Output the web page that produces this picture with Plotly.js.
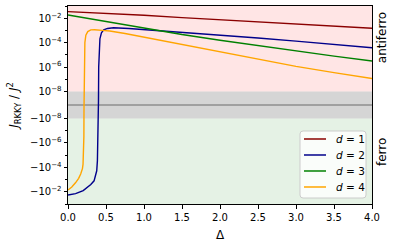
<!DOCTYPE html>
<html>
<head>
<meta charset="utf-8">
<script src="https://cdn.plot.ly/plotly-3.0.1.min.js"></script>
<style>html,body{margin:0;padding:0;background:#fff;}#chart{width:394px;height:251px;}</style>
</head>
<body>
<div id="chart"></div>
<script>
// ---- data (J_RKKY / J^2 versus Delta) ----
const labels = ['<i>d</i> = 1', '<i>d</i> = 2', '<i>d</i> = 3', '<i>d</i> = 4'];
const colors = ['#8b0000', '#00008b', '#008000', '#ffa500'];

const delta1 = [0, 0.5, 1, 1.5, 2, 2.5, 3, 3.5, 4];
const j1 = [3.47e-2, 2.63e-2, 1.74e-2, 1.12e-2, 7.6e-3, 4.7e-3, 3.2e-3, 2.2e-3, 1.5e-3];

const delta2 = [0, 0.1, 0.2, 0.25, 0.3, 0.343, 0.365, 0.378, 0.387, 0.393, 0.397, 0.399, 0.401, 0.404,
                0.41, 0.42, 0.44, 0.47, 0.52, 0.6, 0.8, 1.0, 1.5, 2.0, 2.5, 3.0, 3.5, 4.0];
const j2 = [-1.86e-2, -1.41e-2, -7.9e-3, -4.5e-3, -2.5e-3, -1.26e-3, -5.0e-4, -1.9e-4, -2.8e-5, -1e-6, -2e-9, 0, 3e-9, 1e-6,
            3e-5, 2e-4, 6.3e-4, 1.1e-3, 1.45e-3, 1.66e-3, 1.42e-3, 1.17e-3, 6.8e-4, 4.0e-4, 2.4e-4, 1.32e-4, 7.1e-5, 3.8e-5];

const delta3 = [0, 0.25, 0.5, 0.75, 1, 1.5, 2, 2.5, 3, 3.5, 4];
const j3 = [1.86e-2, 1.0e-2, 5.25e-3, 2.75e-3, 1.48e-3, 4.6e-4, 1.58e-4, 5.6e-5, 2.1e-5, 7.9e-6, 3.1e-6];

const delta4 = [0, 0.05, 0.101, 0.14, 0.167, 0.19, 0.198, 0.205, 0.209, 0.2105, 0.211, 0.2115, 0.213, 0.216,
                0.222, 0.235, 0.26, 0.3, 0.35, 0.45, 0.55, 0.75, 1.0, 1.5, 2.0, 2.5, 3.0, 3.5, 4.0];
const j4 = [-7.2e-3, -4.0e-3, -1.74e-3, -7.9e-4, -3.5e-4, -1.26e-4, -5.4e-5, -6.3e-6, -3e-7, -3e-9, 0, 3e-9, 3e-7, 1e-5,
            1e-4, 4e-4, 8e-4, 1.1e-3, 1.12e-3, 1.0e-3, 8.9e-4, 5.6e-4, 2.8e-4, 7.1e-5, 1.78e-5, 4.2e-6, 1.12e-6, 3.5e-7, 1.15e-7];

const yMajorVals = [1e-2, 1e-4, 1e-6, 1e-8, -1e-8, -1e-6, -1e-4, -1e-2];
const yMajorText = ['10<sup>−2</sup>', '10<sup>−4</sup>', '10<sup>−6</sup>', '10<sup>−8</sup>',
                    '−10<sup>−8</sup>', '−10<sup>−6</sup>', '−10<sup>−4</sup>', '−10<sup>−2</sup>'];
const yMinorVals = [1e-1, 1e-3, 1e-5, 1e-7, -1e-7, -1e-5, -1e-3, -1e-1];
const yLimit = 1e-1;
const linThresh = 1e-8;

// ---- symmetric-log transform (linscale 1, base 10) ----
const linScale = 1 / (1 - 1 / 10);
function T(v) {
  const a = Math.abs(v);
  if (a <= linThresh) return v / linThresh * linScale;
  return Math.sign(v) * (Math.log10(a / linThresh) + linScale);
}

const deltas = [delta1, delta2, delta3, delta4];
const js = [j1, j2, j3, j4];
const traces = js.map((jv, i) => ({
  x: deltas[i], y: jv.map(T), type: 'scatter', mode: 'lines',
  name: labels[i], line: {color: colors[i], width: 1.4}, hoverinfo: 'skip', showlegend: false
}));

const yTop = T(yLimit), yBot = T(-yLimit), tp = T(linThresh), tn = T(-linThresh);

// ---- legend box (paper coordinates) ----
const lgX0 = 0.7632, lgX1 = 0.9803, lgY0 = 0.0303, lgY1 = 0.3687, rx = 0.010, ry = 0.015;
const lgPath = `M ${lgX0 + rx} ${lgY0} L ${lgX1 - rx} ${lgY0} Q ${lgX1} ${lgY0} ${lgX1} ${lgY0 + ry} ` +
               `L ${lgX1} ${lgY1 - ry} Q ${lgX1} ${lgY1} ${lgX1 - rx} ${lgY1} L ${lgX0 + rx} ${lgY1} ` +
               `Q ${lgX0} ${lgY1} ${lgX0} ${lgY1 - ry} L ${lgX0} ${lgY0 + ry} Q ${lgX0} ${lgY0} ${lgX0 + rx} ${lgY0} Z`;
const lgRowY = [0.3283, 0.2475, 0.1667, 0.0859];

const shapes = [
  {type: 'rect', xref: 'paper', yref: 'y', x0: 0, x1: 1, y0: tp, y1: yTop, fillcolor: 'rgba(255,0,0,0.1)', line: {width: 0}, layer: 'below'},
  {type: 'rect', xref: 'paper', yref: 'y', x0: 0, x1: 1, y0: yBot, y1: tn, fillcolor: 'rgba(0,128,0,0.1)', line: {width: 0}, layer: 'below'},
  {type: 'rect', xref: 'paper', yref: 'y', x0: 0, x1: 1, y0: tn, y1: tp, fillcolor: 'rgba(128,128,128,0.33)', line: {width: 0}, layer: 'below'},
  {type: 'line', xref: 'paper', yref: 'y', x0: 0, x1: 1, y0: 0, y1: 0, line: {color: 'rgba(90,90,90,0.85)', width: 1.2}, layer: 'below'},
  {type: 'path', xref: 'paper', yref: 'paper', path: lgPath, fillcolor: 'rgba(255,255,255,0.8)', line: {color: '#cccccc', width: 1}, layer: 'above'}
];
colors.forEach((c, i) => shapes.push({type: 'line', xref: 'paper', yref: 'paper', x0: 0.7763, x1: 0.8487,
  y0: lgRowY[i], y1: lgRowY[i], line: {color: c, width: 1.5}, layer: 'above'}));

const annotations = [
  {text: 'antiferro', xref: 'paper', yref: 'y', x: 1, y: T(3.5e-5), xanchor: 'center', yanchor: 'middle', xshift: 10, yshift: 10, textangle: -90, showarrow: false, font: {size: 12}},
  {text: 'ferro', xref: 'paper', yref: 'y', x: 1, y: T(-3e-5), xanchor: 'center', yanchor: 'middle', xshift: 10, yshift: 9, textangle: -90, showarrow: false, font: {size: 12}}
];
labels.forEach((t, i) => annotations.push({text: t, xref: 'paper', yref: 'paper', x: 0.875, y: lgRowY[i],
  xanchor: 'left', yanchor: 'middle', showarrow: false, font: {size: 10.5}}));

const layout = {
  width: 394, height: 251,
  margin: {l: 68, r: 22, t: 6, b: 47},
  paper_bgcolor: '#fff', plot_bgcolor: '#fff',
  font: {family: 'DejaVu Sans', size: 10, color: '#000'},
  showlegend: false,
  xaxis: {range: [0, 4], dtick: 0.5, tick0: 0, tickformat: '.1f',
          showgrid: false, zeroline: false, showline: true, mirror: true,
          linecolor: '#000', linewidth: 1, ticks: 'outside', ticklen: 3.5, tickcolor: '#000',
          title: {text: 'Δ', font: {size: 12}, standoff: 9}},
  yaxis: {range: [yBot, yTop], tickmode: 'array', tickvals: yMajorVals.map(T), ticktext: yMajorText,
          minor: {tickmode: 'array', tickvals: yMinorVals.map(T), ticks: 'outside', ticklen: 2, tickcolor: '#000'},
          showgrid: false, zeroline: false, showline: true, mirror: true,
          linecolor: '#000', linewidth: 1, ticks: 'outside', ticklen: 3.5, tickcolor: '#000',
          title: {text: '<i>J</i><sub>RKKY</sub> / <i>J</i><sup>2</sup>', font: {size: 12}, standoff: 8}},
  shapes: shapes,
  annotations: annotations
};

Plotly.newPlot('chart', traces, layout, {displayModeBar: false, staticPlot: true});
</script>
</body>
</html>
